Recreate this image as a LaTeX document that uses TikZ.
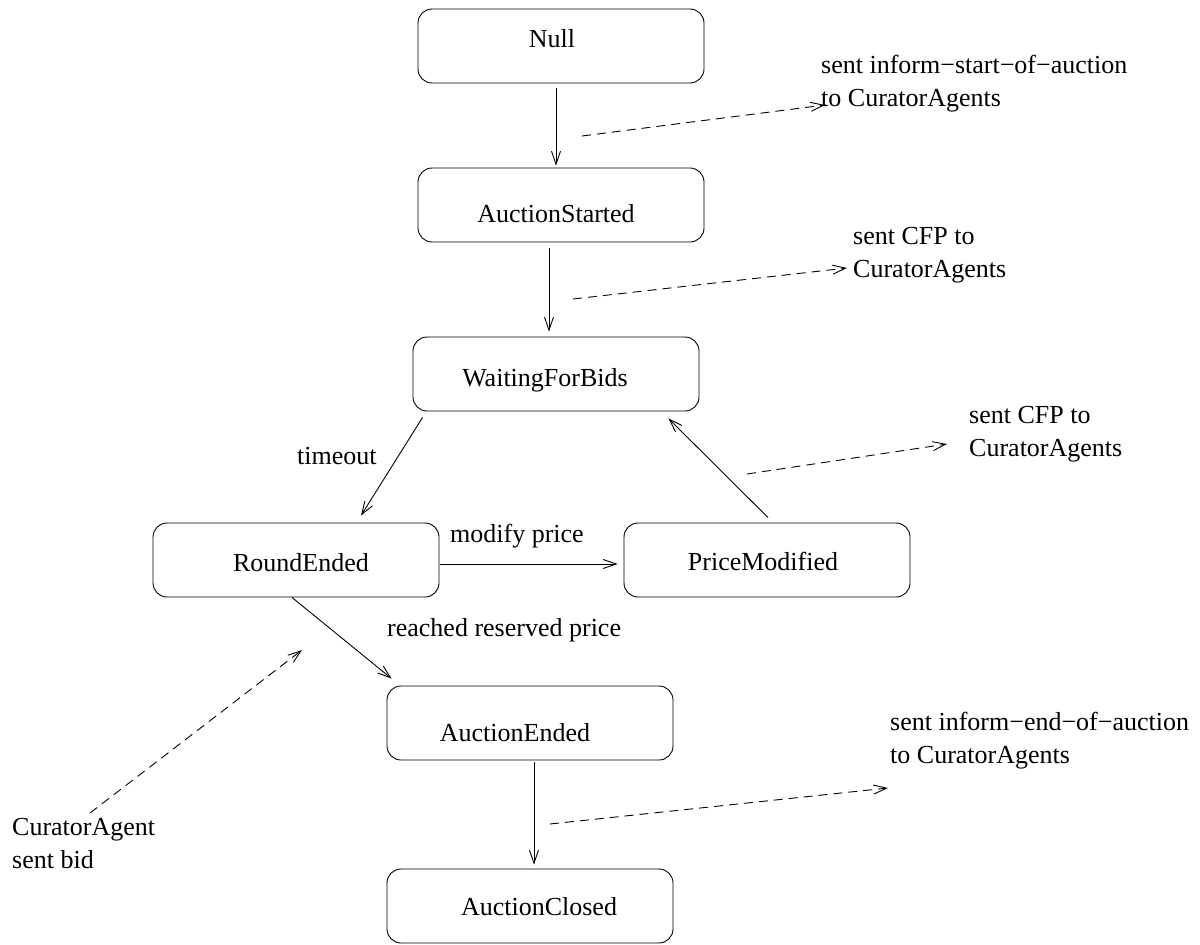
\documentclass[tikz,border=0pt]{standalone}
\usepackage{fontspec}
\setmainfont{Liberation Serif}
\usetikzlibrary{arrows.meta,calc}
\begin{document}
\begin{tikzpicture}[x=1pt,y=-1pt,
  every node/.style={font=\fontsize{26}{33}\selectfont},
  statebox/.style={draw,line width=0.9pt,rounded corners=14pt,minimum width=286pt,minimum height=74pt,inner sep=0pt},
  txt/.style={anchor=base west,inner sep=0pt},
  ctxt/.style={anchor=base,inner sep=0pt},
  mtxt/.style={anchor=base west,inner sep=0pt,align=left},
  arr/.style={line width=0.9pt,-{Straight Barb[length=13pt,width=9pt,line width=0.9pt]}},
  darr/.style={line width=0.9pt,dash pattern=on 9pt off 6pt,-{Straight Barb[length=13pt,width=9pt,line width=0.9pt]}}]
\useasboundingbox (0,0) rectangle (1200,945);

% states
\node[statebox] (null) at (561,46) {};
\node[ctxt] (nullT) at (552,47) {Null};
\node[statebox] (started) at (561,205) {};
\node[ctxt] (startedT) at (556,222) {AuctionStarted};
\node[statebox] (waiting) at (556,374) {};
\node[ctxt] (waitingT) at (545,386) {WaitingForBids};
\node[statebox] (round) at (296,560) {};
\node[ctxt] (roundT) at (301,571) {RoundEnded};
\node[statebox] (price) at (767,560) {};
\node[ctxt] (priceT) at (763,570) {PriceModified};
\node[statebox] (ended) at (530,723) {};
\node[ctxt] (endedT) at (515,741) {AuctionEnded};
\node[statebox] (closed) at (530,906) {};
\node[ctxt] (closedT) at (539,915) {AuctionClosed};

% transitions
\draw[arr] ($(null.south)+(-5,5)$) -- ($(started.north)+(-5,-2)$);
\draw[arr] ($(started.south)+(-12,6)$) -- ($(waiting.north)+(-7,-5)$);
\draw[arr] ($(waiting.south west)+(10,6)$) -- ($(round.north)+(65,-7)$);
\draw[arr] ($(round.east)+(1,4)$) -- ($(price.west)+(-6,4)$);
\draw[arr] ($(price.north)+(1,-5)$) -- ($(waiting.south east)+(-31,7)$);
\draw[arr] ($(round.south)+(-4,0)$) -- ($(ended.north west)+(5,-7)$);
\draw[arr] ($(ended.south)+(4,2)$) -- ($(closed.north)+(4,-4)$);

% transition labels
\node[txt] (timeout) at (297,464) {timeout};
\node[txt] (modify) at (450,542) {modify price};
\node[txt] (reached) at (387,636) {reached reserved price};

% message labels (base = baseline of last line)
\node[mtxt] (m1) at (821,106) {sent inform−start−of−auction\\to CuratorAgents};
\node[mtxt] (m2) at (853,277) {sent CFP to\\CuratorAgents};
\node[mtxt] (m3) at (969,456) {sent CFP to\\CuratorAgents};
\node[mtxt] (m4) at (890,763) {sent inform−end−of−auction\\to CuratorAgents};
\node[mtxt] (m5) at (12,868) {CuratorAgent\\sent bid};

% message arrows
\coordinate (d1a) at (582,136); \coordinate (d1b) at (825,105);
\coordinate (d2a) at (573,299); \coordinate (d2b) at (847,268);
\coordinate (d3a) at (747,474); \coordinate (d3b) at (947,444);
\coordinate (d4a) at (550,824); \coordinate (d4b) at (888,788);
\coordinate (d5a) at (90,813);  \coordinate (d5b) at (302,650);
\draw[darr] (d1a) -- (d1b);
\draw[darr] (d2a) -- (d2b);
\draw[darr] (d3a) -- (d3b);
\draw[darr] (d4a) -- (d4b);
\draw[darr] (d5a) -- (d5b);
\end{tikzpicture}
\end{document}
